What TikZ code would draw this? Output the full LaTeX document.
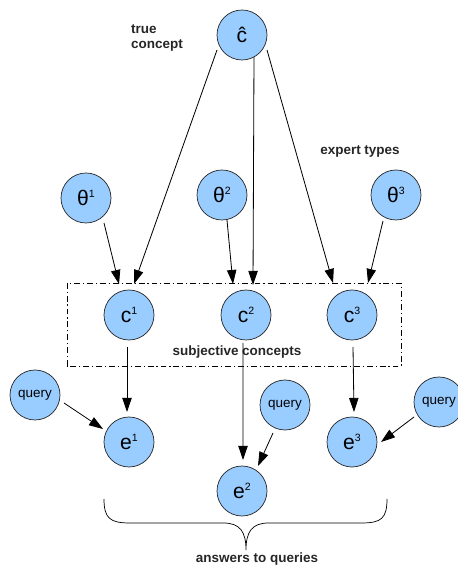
\documentclass[tikz,border=0pt]{standalone}
\usepackage{fontspec}
\setmainfont{Liberation Sans}
\usetikzlibrary{arrows.meta, calc}
\definecolor{nodeblue}{RGB}{153,204,255}
\newcommand{\upidx}[1]{\raisebox{0.75ex}{\fontsize{9}{9}\selectfont #1}}

\begin{document}
\begin{tikzpicture}[
  var/.style={circle, draw=black!85, fill=nodeblue, line width=0.6pt, minimum size=1.5cm, inner sep=0pt, font=\fontsize{18}{18}\selectfont},
  qry/.style={var, font=\fontsize{11.5}{12}\selectfont},
  lbl/.style={font=\fontsize{11.5}{12.5}\selectfont\bfseries, text=black!85, align=left},
  arr/.style={-{Triangle[length=12pt,width=8pt]}, line width=0.7pt}
]
\useasboundingbox (0,0) rectangle (13.71,16.95);
% true concept and expert types
\node[var] (chat) at (7.26,15.90) {ĉ};
\node[var] (th1) at (2.58,11.01) {θ\upidx{1}};
\node[var] (th2) at (6.66,11.10) {θ\upidx{2}};
\node[var] (th3) at (11.88,11.10) {θ\upidx{3}};
% subjective concepts
\node[var] (c1) at (3.87,7.50) {c\upidx{1}};
\node[var] (c2) at (7.38,7.50) {c\upidx{2}};
\node[var] (c3) at (10.56,7.50) {c\upidx{3}};
% queries and answers
\node[qry] (q1) at (1.05,5.10) {query};
\node[qry] (q2) at (8.55,4.80) {query};
\node[qry] (q3) at (13.17,4.89) {query};
\node[var] (e1) at (3.87,3.69) {e\upidx{1}};
\node[var] (e2) at (7.26,2.22) {e\upidx{2}};
\node[var] (e3) at (10.56,3.69) {e\upidx{3}};

\node[lbl, anchor=west] (ltrue) at (3.81,15.81) {true\\concept};
\node[lbl] (lexp) at (10.80,12.39) {expert types};
\node[lbl] (lsubj) at (7.11,6.39) {subjective concepts};
\node[lbl] (lans) at (7.71,0.18) {answers to queries};

\draw[line width=0.6pt, dash pattern=on 5pt off 2.5pt on 1pt off 2.5pt] (2.01,5.97) rectangle (12.03,8.46);

\draw[arr] ($(chat)+(-0.75,-0.45)$) -- ($(c1)+(0.15,0.93)$);
\draw[arr] ($(chat)+(0.36,-0.66)$) -- ($(c2)+(0.21,0.90)$);
\draw[arr] ($(chat)+(0.75,-0.45)$) -- ($(c3)+(-0.57,0.96)$);
\draw[arr] ($(th1)+(0.54,-0.75)$) -- ($(c1)+(-0.30,0.93)$);
\draw[arr] ($(th2)+(0.15,-0.75)$) -- ($(c2)+(-0.39,0.93)$);
\draw[arr] ($(th3)+(-0.39,-0.78)$) -- ($(c3)+(0.48,0.96)$);
\draw[arr] ($(c1)+(-0.06,-0.96)$) -- ($(e1)+(-0.06,0.90)$);
\draw[arr] ($(c2)+(-0.09,-0.84)$) -- ($(e2)+(0.03,0.93)$);
\draw[arr] ($(c3)+(0.03,-0.96)$) -- ($(e3)+(0.06,0.90)$);
\draw[arr] ($(q1)+(0.87,-0.24)$) -- ($(e1)+(-0.78,0.39)$);
\draw[arr] ($(q2)+(-0.36,-0.84)$) -- ($(e2)+(0.48,0.75)$);
\draw[arr] ($(q3)+(-0.75,-0.45)$) -- ($(e3)+(0.87,0)$);

% brace under the answers
\draw[line width=0.6pt] (3.12,1.98) .. controls (3.12,1.40) and (3.30,1.26) .. (3.90,1.26)
  -- (6.70,1.26) .. controls (7.20,1.26) and (7.38,1.00) .. (7.38,0.45)
  .. controls (7.38,1.00) and (7.56,1.26) .. (8.06,1.26)
  -- (10.84,1.26) .. controls (11.44,1.26) and (11.61,1.40) .. (11.61,1.98);
\end{tikzpicture}
\end{document}
